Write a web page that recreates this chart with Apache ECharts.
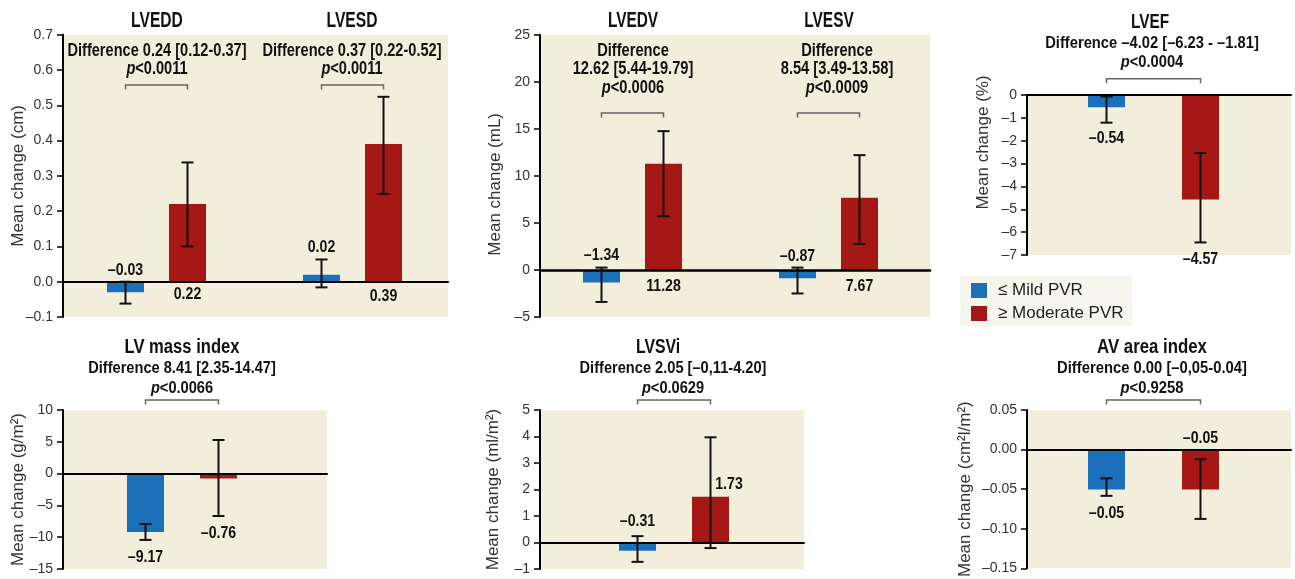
<!DOCTYPE html>
<html><head><meta charset="utf-8">
<script src="https://cdn.jsdelivr.net/npm/echarts@6/dist/echarts.min.js"></script>
<style>html,body{margin:0;padding:0;background:#fff}#c{width:1295px;height:579px}</style>
</head><body><div id="c"></div>
<script>
// ---------------- data ----------------
// LVEDD / LVESD (cm)
const dimCategories = ['LVEDD', 'LVESD'];
const dimMild = [-0.03, 0.02];
const dimMildLow = [-0.062, -0.016];
const dimMildHigh = [0.0, 0.063];
const dimModerate = [0.22, 0.39];
const dimModLow = [0.10, 0.249];
const dimModHigh = [0.338, 0.524];
const dimTicks = [-0.1, 0, 0.1, 0.2, 0.3, 0.4, 0.5, 0.6, 0.7];
const dimDiff = [['Difference 0.24 [0.12-0.37]'], ['Difference 0.37 [0.22-0.52]']];
const dimP = ['<0.0011', '<0.0011'];

// LVEDV / LVESV (mL)
const volCategories = ['LVEDV', 'LVESV'];
const volMild = [-1.34, -0.87];
const volMildLow = [-3.4, -2.5];
const volMildHigh = [0.25, 0.25];
const volModerate = [11.28, 7.67];
const volModLow = [5.7, 2.76];
const volModHigh = [14.75, 12.2];
const volTicks = [-5, 0, 5, 10, 15, 20, 25];
const volDiff = [['Difference', '12.62 [5.44-19.79]'], ['Difference', '8.54 [3.49-13.58]']];
const volP = ['<0.0006', '<0.0009'];

// LVEF (%)
const efCategories = ['LVEF'];
const efMild = [-0.54];
const efMildLow = [-1.21];
const efMildHigh = [-0.07];
const efModerate = [-4.57];
const efModLow = [-6.45];
const efModHigh = [-2.54];
const efTicks = [-7, -6, -5, -4, -3, -2, -1, 0];
const efDiff = [['Difference \u20134.02 [\u20136.23 - \u20131.81]']];
const efP = ['<0.0004'];

// LV mass index (g/m2)
const massCategories = ['LV mass index'];
const massMild = [-9.17];
const massMildLow = [-10.43];
const massMildHigh = [-7.92];
const massModerate = [-0.76];
const massModLow = [-6.67];
const massModHigh = [5.28];
const massTicks = [-15, -10, -5, 0, 5, 10];
const massDiff = [['Difference 8.41 [2.35-14.47]']];
const massP = ['<0.0066'];

// LVSVi (ml/m2)
const svCategories = ['LVSVi'];
const svMild = [-0.31];
const svMildLow = [-0.73];
const svMildHigh = [0.24];
const svModerate = [1.73];
const svModLow = [-0.21];
const svModHigh = [3.97];
const svTicks = [-1, 0, 1, 2, 3, 4, 5];
const svDiff = [['Difference 2.05 [\u20130,11-4.20]']];
const svP = ['<0.0629'];

// AV area index
const avCategories = ['AV area index'];
const avMild = [-0.05];
const avMildLow = [-0.058];
const avMildHigh = [-0.036];
const avModerate = [-0.05];
const avModLow = [-0.087];
const avModHigh = [-0.012];
const avTicks = [-0.15, -0.10, -0.05, 0.00, 0.05];
const avDiff = [['Difference 0.00 [\u20130,05-0.04]']];
const avP = ['<0.9258'];

const legendNames = ['\u2264 Mild PVR', '\u2265 Moderate PVR'];

// ---------------- styles / layout ----------------
const BOLDF = "'Liberation Sans',Arial,sans-serif";
const SANS = "'Liberation Sans',Arial,sans-serif";
const BLUE = '#1c6fb9', RED = '#a51815', BEIGE = '#f2eedc';
const BAR_W = 37;
const LABEL_SIZE = 17, LABEL_SCALE = 0.83;

const panels = [
  { cats: dimCategories, mild: dimMild, mLo: dimMildLow, mHi: dimMildHigh, mod: dimModerate, oLo: dimModLow, oHi: dimModHigh,
    ticks: dimTicks, dec: 1, yName: 'Mean change (cm)', nameGap: 36.5, namePad: [0, 0, 0, 0],
    frame: [63, 34.7, 448, 317], plotLeft: 58.5, plotWidth: 392, sep: 62, bracketY: 85, zeroW: 2,
    lab: { mild: [['zero', -11], ['hi', -12]], mod: [['zero', 13], ['zero', 15]] },
    titles: [[157, 21], [352, 21]], titleSize: 22, titleScale: 0.71,
    diff: dimDiff, p: dimP, diffX: [157, 352], diffY: [51], pY: 69, diffSize: 18, diffScale: 0.81 },
  { cats: volCategories, mild: volMild, mLo: volMildLow, mHi: volMildHigh, mod: volModerate, oLo: volModLow, oHi: volModHigh,
    ticks: volTicks, dec: 0, yName: 'Mean change (mL)', nameGap: 36.5, namePad: [0, 17, 0, 0],
    frame: [540, 34.7, 930, 317], plotLeft: 534.5, plotWidth: 392, sep: 62, bracketY: 113, zeroW: 2.5,
    lab: { mild: [['hi', -12], ['hi', -11]], mod: [['zero', 16], ['zero', 16]] },
    titles: [[633, 21], [829, 21]], titleSize: 22, titleScale: 0.7,
    diff: volDiff, p: volP, diffX: [633, 837], diffY: [51, 69], pY: 88, diffSize: 18, diffScale: 0.815 },
  { cats: efCategories, mild: efMild, mLo: efMildLow, mHi: efMildHigh, mod: efModerate, oLo: efModLow, oHi: efModHigh,
    ticks: efTicks, dec: 0, yName: 'Mean change (%)', nameGap: 35.5, namePad: [0, 0, 0, 65],
    frame: [1027, 95, 1291, 255], plotLeft: 1053.5, plotWidth: 200, sep: 94, bracketY: 78.7, zeroW: 2,
    lab: { mild: [['lo', 16]], mod: [['lo', 17]] },
    titles: [[1150, 22]], titleSize: 20, titleScale: 0.77,
    diff: efDiff, p: efP, diffX: [1152], diffY: [43.5], pY: 63, diffSize: 16, diffScale: 0.92 },
  { cats: massCategories, mild: massMild, mLo: massMildLow, mHi: massMildHigh, mod: massModerate, oLo: massModLow, oHi: massModHigh,
    ticks: massTicks, dec: 0, yName: 'Mean change (g/m\u00b2)', nameGap: 36.5, namePad: [0, 0, 0, 0],
    frame: [63, 410, 327, 569], plotLeft: 82, plotWidth: 200, sep: 73, bracketY: 400, zeroW: 2,
    lab: { mild: [['lo', 17]], mod: [['lo', 17.5]] },
    titles: [[182, 347]], titleSize: 20, titleScale: 0.83,
    diff: massDiff, p: massP, diffX: [182], diffY: [368], pY: 388, diffSize: 17, diffScale: 0.86 },
  { cats: svCategories, mild: svMild, mLo: svMildLow, mHi: svMildHigh, mod: svModerate, oLo: svModLow, oHi: svModHigh,
    ticks: svTicks, dec: 0, yName: 'Mean change (ml/m\u00b2)', nameGap: 38.5, namePad: [0, 0, 0, 0],
    frame: [540, 410, 804, 569], plotLeft: 574, plotWidth: 200, sep: 73, bracketY: 400, zeroW: 2,
    lab: { mild: [['hi', -15]], mod: [['val', -12, 18.5]] },
    titles: [[658, 347]], titleSize: 20, titleScale: 0.79,
    diff: svDiff, p: svP, diffX: [673], diffY: [368], pY: 388, diffSize: 17, diffScale: 0.86 },
  { cats: avCategories, mild: avMild, mLo: avMildLow, mHi: avMildHigh, mod: avModerate, oLo: avModLow, oHi: avModHigh,
    ticks: avTicks, dec: 2, yName: 'Mean change (cm\u00b2l/m\u00b2)', nameGap: 53.5, namePad: [0, 0, 0, 0],
    frame: [1027, 410, 1291, 569], plotLeft: 1053.5, plotWidth: 200, sep: 94, bracketY: 400, zeroW: 2,
    lab: { mild: [['lo', 17]], mod: [['zero', -11]] },
    titles: [[1152, 347]], titleSize: 20, titleScale: 0.84,
    diff: avDiff, p: avP, diffX: [1152], diffY: [368], pY: 388, diffSize: 17, diffScale: 0.87 }
];

function fmt(v, d) {
  const s = Math.abs(v).toFixed(d);
  return (v < 0 && Number(s) !== 0 ? '\u2013' : '') + s;
}
function txt(x, y, text, size, scale, extra) {
  return { type: 'text', x: x, y: y, scaleX: scale, scaleY: 1, silent: true, z: 10,
    style: Object.assign({ text: text, fontFamily: BOLDF, fontWeight: 'bold', fontSize: size, fill: '#111',
      textAlign: 'center', textVerticalAlign: 'middle', align: 'center', verticalAlign: 'middle' }, extra || {}) };
}

const grids = [], xAxes = [], yAxes = [], series = [], graphics = [];

panels.forEach(function (p, i) {
  const fl = p.frame[0], ft = p.frame[1], fr = p.frame[2], fb = p.frame[3];
  const t = p.ticks;
  const yMin = t[0], yMax = t[t.length - 1], yInt = +(t[1] - t[0]).toFixed(6);
  const gF = 2 * i, gP = 2 * i + 1;
  grids.push({ left: fl, top: ft, width: fr - fl, height: fb - ft, show: true, backgroundColor: BEIGE, borderWidth: 0 });
  grids.push({ left: p.plotLeft, top: ft, width: p.plotWidth, height: fb - ft });
  xAxes.push({ type: 'category', gridIndex: gF, data: p.cats, z: 5,
    axisLine: { show: true, onZero: true, lineStyle: { color: '#000', width: p.zeroW } },
    axisTick: { show: false }, axisLabel: { show: false }, splitLine: { show: false } });
  xAxes.push({ type: 'category', gridIndex: gP, data: p.cats, show: false });
  yAxes.push({ type: 'value', gridIndex: gF, min: yMin, max: yMax, interval: yInt,
    axisLine: { show: true, onZero: false, lineStyle: { color: '#000', width: 2 } },
    axisTick: { show: true, length: 6, lineStyle: { color: '#000', width: 1.5 } },
    axisLabel: { color: '#333', fontFamily: SANS, fontSize: 14, margin: 10, formatter: function (v) { return fmt(v, p.dec); } },
    splitLine: { show: false },
    name: p.yName, nameLocation: 'middle', nameGap: p.nameGap, nameMoveOverlap: false,
    nameTextStyle: { fontFamily: SANS, fontSize: 17, color: '#333', padding: p.namePad } });
  yAxes.push({ type: 'value', gridIndex: gP, min: yMin, max: yMax, interval: yInt, show: false });

  const gap = ((p.sep - BAR_W) / BAR_W * 100).toFixed(2) + '%';
  series.push({ type: 'bar', name: legendNames[0], xAxisIndex: gP, yAxisIndex: gP, data: p.mild, barWidth: BAR_W, barGap: gap,
    itemStyle: { color: BLUE }, silent: true, z: 2 });
  series.push({ type: 'bar', name: legendNames[1], xAxisIndex: gP, yAxisIndex: gP, data: p.mod, barWidth: BAR_W, barGap: gap,
    itemStyle: { color: RED }, silent: true, z: 2 });

  // error bars + value labels
  const items = [];
  p.cats.forEach(function (c, ci) {
    items.push([ci, 0, p.mild[ci], p.mLo[ci], p.mHi[ci]]);
    items.push([ci, 1, p.mod[ci], p.oLo[ci], p.oHi[ci]]);
  });
  series.push({ type: 'custom', xAxisIndex: gP, yAxisIndex: gP, data: items, silent: true, clip: false, z: 6,
    renderItem: function (params, api) {
      const ci = api.value(0), g = api.value(1), v = api.value(2), lo = api.value(3), hi = api.value(4);
      const cx = api.coord([ci, 0])[0] + (g === 0 ? -1 : 1) * p.sep / 2;
      const yLo = api.coord([ci, lo])[1], yHi = api.coord([ci, hi])[1];
      const cap = 6, ls = { stroke: '#111', lineWidth: 2 };
      const m = (g === 0 ? p.lab.mild : p.lab.mod)[ci];
      const anchor = m[0] === 'zero' ? 0 : m[0] === 'lo' ? lo : m[0] === 'hi' ? hi : v;
      const ly = api.coord([ci, anchor])[1] + m[1];
      const lx = cx + (m[2] || 0);
      return { type: 'group', children: [
        { type: 'line', shape: { x1: cx, y1: yLo, x2: cx, y2: yHi }, style: ls },
        { type: 'line', shape: { x1: cx - cap, y1: yLo, x2: cx + cap, y2: yLo }, style: ls },
        { type: 'line', shape: { x1: cx - cap, y1: yHi, x2: cx + cap, y2: yHi }, style: ls },
        { type: 'text', x: lx, y: ly, scaleX: LABEL_SCALE, scaleY: 1,
          style: { text: fmt(v, 2), fontFamily: BOLDF, fontWeight: 'bold', fontSize: LABEL_SIZE, fill: '#111',
          textAlign: 'center', textVerticalAlign: 'middle', align: 'center', verticalAlign: 'middle' } }
      ] };
    } });

  // comparison brackets
  series.push({ type: 'custom', xAxisIndex: gP, yAxisIndex: gP, data: p.cats.map(function (c, ci) { return [ci]; }),
    silent: true, clip: false, z: 6,
    renderItem: function (params, api) {
      const cx = api.coord([api.value(0), 0])[0];
      const x1 = cx - p.sep / 2, x2 = cx + p.sep / 2, y = p.bracketY, d = 4.5;
      return { type: 'polyline', shape: { points: [[x1, y + d], [x1, y], [x2, y], [x2, y + d]] },
        style: { stroke: '#666', lineWidth: 1.5, fill: null } };
    } });

  // titles and difference texts
  p.cats.forEach(function (c, ci) {
    graphics.push(txt(p.titles[ci][0], p.titles[ci][1], c, p.titleSize, p.titleScale));
    p.diff[ci].forEach(function (line, li) {
      graphics.push(txt(p.diffX[ci], p.diffY[li], line, p.diffSize, p.diffScale));
    });
    graphics.push(txt(p.diffX[ci], p.pY, '{i|p}{b|' + p.p[ci] + '}', p.diffSize, p.diffScale, {
      rich: { i: { fontFamily: BOLDF, fontWeight: 'bold', fontStyle: 'italic', fontSize: p.diffSize, fill: '#111' },
              b: { fontFamily: BOLDF, fontWeight: 'bold', fontSize: p.diffSize, fill: '#111' } } }));
  });
});

const chart = echarts.init(document.getElementById('c'), null, { renderer: 'canvas' });
chart.setOption({
  animation: false,
  backgroundColor: '#fff',
  grid: grids, xAxis: xAxes, yAxis: yAxes, series: series,
  legend: { data: legendNames, orient: 'vertical', left: 960, top: 276, padding: [6, 9, 4, 11], itemGap: 6,
    itemWidth: 16, itemHeight: 15, icon: 'rect', selectedMode: false, backgroundColor: '#f7f6ee',
    textStyle: { fontFamily: SANS, fontSize: 17, color: '#222', padding: [0, 0, 0, 6] } },
  graphic: graphics
});
</script></body></html>
